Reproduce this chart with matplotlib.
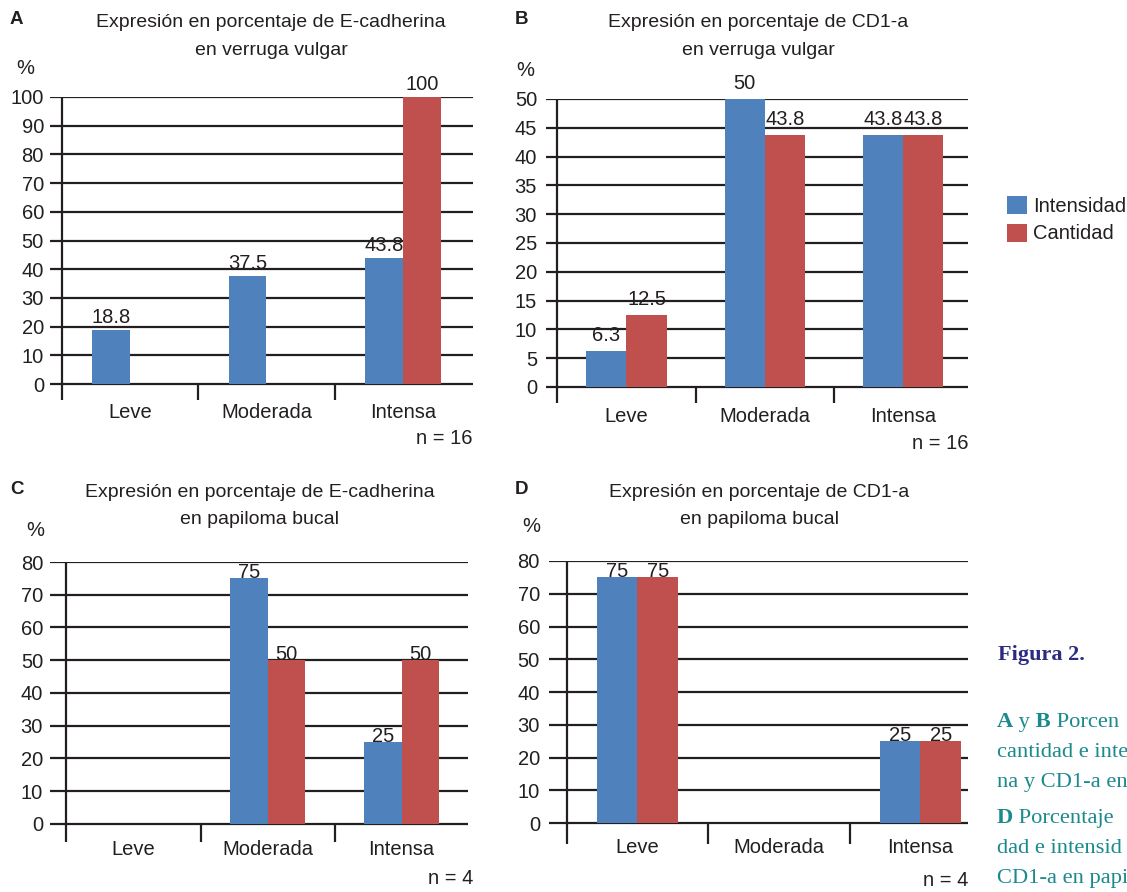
import matplotlib
matplotlib.use("Agg")
import matplotlib.pyplot as plt
import numpy as np

W, H = 1127, 892

# ---------------- data ----------------
categories = ["Leve", "Moderada", "Intensa"]
series_names = ["Intensidad", "Cantidad"]

a_intensidad = [18.8, 37.5, 43.8]
a_cantidad = [0, 0, 100]
b_intensidad = [6.3, 50, 43.8]
b_cantidad = [12.5, 43.8, 43.8]
c_intensidad = [0, 75, 25]
c_cantidad = [0, 50, 50]
d_intensidad = [75, 0, 25]
d_cantidad = [75, 0, 25]

a_title = ["Expresión en porcentaje de E-cadherina", "en verruga vulgar"]
b_title = ["Expresión en porcentaje de CD1-a", "en verruga vulgar"]
c_title = ["Expresión en porcentaje de E-cadherina", "en papiloma bucal"]
d_title = ["Expresión en porcentaje de CD1-a", "en papiloma bucal"]

a_n = "n = 16"
b_n = "n = 16"
c_n = "n = 4"
d_n = "n = 4"

# caption as visible in the (cropped) figure
caption_lines = [
    [("A", True), (" y", False), (" B", True), (" Porcen", False)],
    [("cantidad e inte", False)],
    [("na y CD1-a en", False)],
    [("D", True), (" Porcentaje", False)],
    [("dad e intensid", False)],
    [("CD1-a en papi", False)],
]

# ---------------- style ----------------
BLUE = "#4F81BD"
RED = "#C0504D"
INK = "#231F20"
TEAL = "#1B8A8E"
NAVY = "#2B2B82"
SANS = ["Liberation Sans", "DejaVu Sans"]
SERIF = ["Liberation Serif", "DejaVu Serif"]
FS = 14.5
LW = 1.6

plt.rcParams["font.family"] = SANS

fig = plt.figure(figsize=(W / 100, H / 100), dpi=100)


def fx(px):
    return px / W


def fy(py):
    return 1 - py / H


def panel(rect, ylim, ystep, xlim, width, intens, cant, lab_off, ypad, xpad):
    l, t, r, b = rect
    ax = fig.add_axes([fx(l), fy(b), (r - l) / W, (b - t) / H])
    x = np.arange(len(categories))
    b1 = ax.bar(x - width / 2, intens, width, color=BLUE, zorder=3)
    b2 = ax.bar(x + width / 2, cant, width, color=RED, zorder=3)
    for bars, vals in ((b1, intens), (b2, cant)):
        for rect_, v in zip(bars, vals):
            if v > 0:
                ax.annotate(f"{v:g}", xy=(rect_.get_x() + rect_.get_width() / 2, v),
                            xytext=(0, lab_off * 0.72), textcoords="offset points",
                            ha="center", va="baseline", fontsize=FS, color=INK,
                            zorder=4)
    ax.set_xlim(*xlim)
    ax.set_ylim(*ylim)
    ax.set_yticks(np.arange(0, ylim[1] + 0.01, ystep))
    ax.set_xticks(x, categories)
    ax.tick_params(axis="y", length=0, pad=ypad * 0.72, labelsize=FS, labelcolor=INK)
    ax.tick_params(axis="x", length=0, pad=xpad * 0.72, labelsize=FS, labelcolor=INK)
    for s in ax.spines.values():
        s.set_visible(False)
    ax.set_axisbelow(True)
    ax.yaxis.grid(True, color=INK, linewidth=LW)
    ax.xaxis.grid(False)
    ax.axvline(-0.5, color=INK, linewidth=LW, zorder=1)
    ax.vlines([0.5, 1.5], ylim[0], 0, color=INK, linewidth=LW, zorder=1)
    ax.patch.set_alpha(0)
    return ax, b1, b2


axA, hb, hr = panel((50, 97, 473, 400), (-5.57, 100), 10, (-0.586, 2.513), 0.278,
                    a_intensidad, a_cantidad, 7, 6, 3)
axB, _, _ = panel((546, 99, 968, 403), (-2.78, 50), 5, (-0.582, 2.469), 0.29,
                  b_intensidad, b_cantidad, 10, 9, 4)
axC, _, _ = panel((50, 562, 468, 842), (-5.5, 80), 10, (-0.623, 2.496), 0.28,
                  c_intensidad, c_cantidad, 0, 7, -2)
axD, _, _ = panel((549, 561, 968, 844), (-6.4, 80), 10, (-0.625, 2.336), 0.286,
                  d_intensidad, d_cantidad, 0, 9, -6)

# ---------------- panel texts ----------------
def ftext(x, y, s, **kw):
    kw.setdefault("fontsize", FS)
    kw.setdefault("color", INK)
    return fig.text(fx(x), fy(y), s, **kw)


for letter, (lx, ly) in zip("ABCD", [(16, 20), (522, 20), (17, 490), (521, 490)]):
    ftext(lx, ly, letter, ha="center", va="center", fontsize=13.5, fontweight="bold")

for title, cx, y1, y2 in [(a_title, 271, 27, 55), (b_title, 758, 27, 55),
                          (c_title, 260, 497, 524), (d_title, 759, 497, 524)]:
    ftext(cx, y1, title[0], ha="center", va="baseline", fontsize=14)
    ftext(cx, y2, title[1], ha="center", va="baseline", fontsize=14)

for px, py in [(25, 69), (525, 70), (35, 531), (531, 527)]:
    ftext(px, py, "%", ha="center", va="center")

for s, px, py in [(a_n, 473, 438), (b_n, 968, 443), (c_n, 473, 878), (d_n, 968, 880)]:
    ftext(px, py, s, ha="right", va="center")

# ---------------- legend ----------------
fig.legend([hb, hr], series_names, loc="upper left",
           bbox_to_anchor=(fx(1007), fy(196)), frameon=False, fontsize=FS,
           handlelength=1.0, handleheight=1.0, handletextpad=0.3,
           labelspacing=0.38, borderpad=0, borderaxespad=0,
           labelcolor=INK)

# ---------------- caption ----------------
overlay = fig.add_axes([0, 0, 1, 1])
overlay.set_axis_off()
overlay.patch.set_alpha(0)

ftext(998, 660, "Figura 2.", ha="left", va="baseline", fontsize=16,
      fontweight="bold", color=NAVY, family=SERIF)

caption_baselines = [727, 757, 787, 823, 853, 883]

for parts, base in zip(caption_lines, caption_baselines):
    prev = None
    for s, bold in parts:
        kw = dict(fontsize=16.2, family=SERIF, color=TEAL,
                  fontweight="bold" if bold else "normal", va="baseline", ha="left")
        if prev is None:
            prev = fig.text(fx(997), fy(base), s, **kw)
        else:
            prev = overlay.annotate(s, xy=(1, fy(base)),
                                    xycoords=(prev, "figure fraction"), **kw)

fig.savefig("out.png", dpi=100)
